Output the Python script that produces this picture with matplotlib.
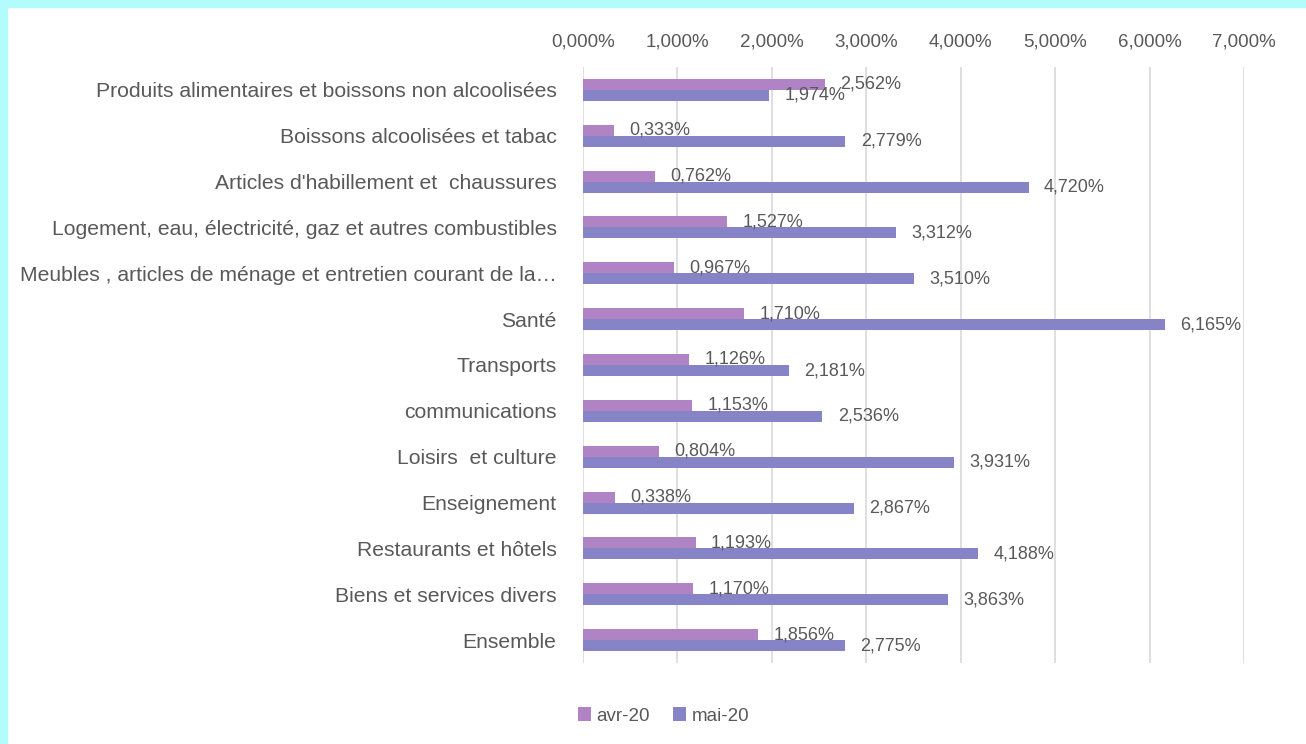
import matplotlib
matplotlib.use("Agg")
import matplotlib.pyplot as plt
from matplotlib.patches import Rectangle
from matplotlib.ticker import FuncFormatter
import numpy as np

categories = [
    "Produits alimentaires et boissons non alcoolisées",
    "Boissons alcoolisées et tabac",
    "Articles d'habillement et  chaussures",
    "Logement, eau, électricité, gaz et autres combustibles",
    "Meubles , articles de ménage et entretien courant de la…",
    "Santé",
    "Transports",
    "communications",
    "Loisirs  et culture",
    "Enseignement",
    "Restaurants et hôtels",
    "Biens et services divers",
    "Ensemble",
]
avr20 = [2.562, 0.333, 0.762, 1.527, 0.967, 1.710, 1.126, 1.153, 0.804, 0.338, 1.193, 1.170, 1.856]
mai20 = [1.974, 2.779, 4.720, 3.312, 3.510, 6.165, 2.181, 2.536, 3.931, 2.867, 4.188, 3.863, 2.775]
series_names = ["avr-20", "mai-20"]
x_ticks = [0, 1, 2, 3, 4, 5, 6, 7]

plt.rcParams['font.family'] = ['Liberation Sans', 'DejaVu Sans']
TXT = "#595959"
C_AVR = "#B084C4"
C_MAI = "#8683C6"

fig = plt.figure(figsize=(13.06, 7.44), dpi=100)
fig.patch.set_facecolor("white")
# cyan frame (top and left)
fig.patches.append(Rectangle((0, 1 - 7/744), 1, 7/744, transform=fig.transFigure,
                             color="#B3FCFC", zorder=0))
fig.patches.append(Rectangle((0, 0), 7/1306, 1, transform=fig.transFigure,
                             color="#B3FCFC", zorder=0))

ax = fig.add_axes([583/1306, 1 - 663/744, (1244 - 583)/1306, (663 - 67)/744])
y = np.arange(len(categories))
h = 0.24
b1 = ax.barh(y - h/2, avr20, height=h, color=C_AVR, label=series_names[0], zorder=3)
b2 = ax.barh(y + h/2, mai20, height=h, color=C_MAI, label=series_names[1], zorder=3)

def fmt(v):
    return f"{v:.3f}".replace(".", ",") + "%"

for vals, yy in ((avr20, y - h/2), (mai20, y + h/2)):
    for v, yi in zip(vals, yy):
        ax.annotate(fmt(v), (v, yi), xytext=(11, 0), textcoords="offset points",
                    ha="left", va="center", fontsize=13, color=TXT, zorder=4)

ax.set_xlim(0, 7)
ax.set_ylim(len(categories) - 0.5, -0.5)
ax.set_xticks(x_ticks)
ax.xaxis.set_major_formatter(FuncFormatter(lambda v, p: f"{v:.3f}".replace(".", ",") + "%"))
ax.xaxis.tick_top()
ax.tick_params(axis="x", length=0, pad=12, labelsize=13.5, colors=TXT)
ax.set_yticks(y)
ax.set_yticklabels(categories)
ax.tick_params(axis="y", length=0, pad=19, labelsize=15.2, colors=TXT)
ax.grid(axis="x", color="#D9D9D9", linewidth=1.2, zorder=0)
for s in ax.spines.values():
    s.set_visible(False)

fig.legend(handles=[b1, b2], labels=series_names, loc="center", bbox_to_anchor=(0.508, 1 - 716/744),
           ncol=2, frameon=False, fontsize=13.5, labelcolor=TXT, handlelength=0.7,
           handleheight=0.7, handletextpad=0.3, columnspacing=1.2)

fig.savefig("out.png", dpi=100, facecolor="white")
